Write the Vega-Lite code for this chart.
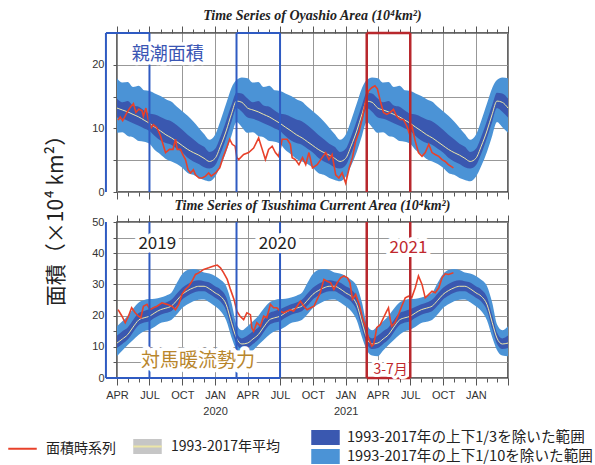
{
  "$schema": "https://vega.github.io/schema/vega-lite/v6.json",
  "padding": {"left": 14, "top": 7, "right": 0, "bottom": 0},
  "background": "white",
  "config": {
    "view": {"stroke": "#333", "strokeWidth": 1.5},
    "axis": {"labelFont": "Liberation Sans", "labelFontSize": 11, "labelColor": "#333", "tickColor": "#555", "gridColor": "#8c8c8c", "gridWidth": 0.9, "domain": false},
    "legend": {"labelFont": "Noto Sans CJK JP", "labelFontSize": 14, "labelColor": "#222", "padding": 0, "labelLimit": 400}
  },
  "datasets": {
    "clim_top": [
      {"d":"2019-04-01","lu":17.9,"du":14.7,"m":13.2,"dl":11.7,"ll":9.3},
      {"d":"2019-04-16","lu":17.2,"du":14.1,"m":12.9,"dl":11.5,"ll":9.4},
      {"d":"2019-05-01","lu":17.3,"du":14.3,"m":12.6,"dl":11.2,"ll":8.8},
      {"d":"2019-05-16","lu":16.5,"du":13.6,"m":12.2,"dl":10.8,"ll":8.6},
      {"d":"2019-06-01","lu":16.7,"du":13.4,"m":11.8,"dl":10.4,"ll":8.0},
      {"d":"2019-06-16","lu":16.0,"du":12.8,"m":11.3,"dl":10.0,"ll":7.9},
      {"d":"2019-07-01","lu":15.9,"du":12.3,"m":10.8,"dl":9.6,"ll":7.6},
      {"d":"2019-07-16","lu":15.5,"du":12.2,"m":10.2,"dl":8.8,"ll":6.6},
      {"d":"2019-08-01","lu":15.1,"du":11.8,"m":9.6,"dl":8.1,"ll":5.9},
      {"d":"2019-08-16","lu":14.6,"du":11.4,"m":9.0,"dl":7.7,"ll":5.2},
      {"d":"2019-09-01","lu":14.2,"du":11.1,"m":8.5,"dl":7.4,"ll":4.8},
      {"d":"2019-09-16","lu":13.4,"du":10.5,"m":7.9,"dl":6.8,"ll":4.4},
      {"d":"2019-10-01","lu":12.7,"du":9.8,"m":7.3,"dl":6.2,"ll":3.8},
      {"d":"2019-10-16","lu":12.0,"du":9.0,"m":6.7,"dl":5.4,"ll":3.0},
      {"d":"2019-11-01","lu":11.1,"du":8.3,"m":6.2,"dl":4.8,"ll":2.7},
      {"d":"2019-11-16","lu":10.1,"du":7.6,"m":5.8,"dl":4.4,"ll":2.2},
      {"d":"2019-12-01","lu":9.1,"du":7.1,"m":5.3,"dl":3.9,"ll":1.9},
      {"d":"2019-12-16","lu":8.2,"du":6.3,"m":4.8,"dl":3.7,"ll":1.7},
      {"d":"2020-01-01","lu":9.0,"du":6.8,"m":5.3,"dl":4.2,"ll":2.4},
      {"d":"2020-01-16","lu":11.2,"du":8.7,"m":7.2,"dl":6.0,"ll":4.1},
      {"d":"2020-02-01","lu":13.9,"du":11.2,"m":9.6,"dl":8.5,"ll":6.3},
      {"d":"2020-02-16","lu":16.4,"du":13.7,"m":12.3,"dl":11.1,"ll":8.9},
      {"d":"2020-03-01","lu":17.6,"du":15.6,"m":14.3,"dl":13.2,"ll":11.0},
      {"d":"2020-03-16","lu":18.0,"du":15.5,"m":14.1,"dl":12.6,"ll":10.2},
      {"d":"2020-04-01","lu":17.9,"du":14.7,"m":13.2,"dl":11.7,"ll":9.3},
      {"d":"2020-04-16","lu":17.2,"du":14.1,"m":12.9,"dl":11.5,"ll":9.4},
      {"d":"2020-05-01","lu":17.3,"du":14.3,"m":12.6,"dl":11.2,"ll":8.8},
      {"d":"2020-05-16","lu":16.5,"du":13.6,"m":12.2,"dl":10.8,"ll":8.6},
      {"d":"2020-06-01","lu":16.7,"du":13.4,"m":11.8,"dl":10.4,"ll":8.0},
      {"d":"2020-06-16","lu":16.0,"du":12.8,"m":11.3,"dl":10.0,"ll":7.9},
      {"d":"2020-07-01","lu":15.9,"du":12.3,"m":10.8,"dl":9.6,"ll":7.6},
      {"d":"2020-07-16","lu":15.5,"du":12.2,"m":10.2,"dl":8.8,"ll":6.6},
      {"d":"2020-08-01","lu":15.1,"du":11.8,"m":9.6,"dl":8.1,"ll":5.9},
      {"d":"2020-08-16","lu":14.6,"du":11.4,"m":9.0,"dl":7.7,"ll":5.2},
      {"d":"2020-09-01","lu":14.2,"du":11.1,"m":8.5,"dl":7.4,"ll":4.8},
      {"d":"2020-09-16","lu":13.4,"du":10.5,"m":7.9,"dl":6.8,"ll":4.4},
      {"d":"2020-10-01","lu":12.7,"du":9.8,"m":7.3,"dl":6.2,"ll":3.8},
      {"d":"2020-10-16","lu":12.0,"du":9.0,"m":6.7,"dl":5.4,"ll":3.0},
      {"d":"2020-11-01","lu":11.1,"du":8.3,"m":6.2,"dl":4.8,"ll":2.7},
      {"d":"2020-11-16","lu":10.1,"du":7.6,"m":5.8,"dl":4.4,"ll":2.2},
      {"d":"2020-12-01","lu":9.1,"du":7.1,"m":5.3,"dl":3.9,"ll":1.9},
      {"d":"2020-12-16","lu":8.2,"du":6.3,"m":4.8,"dl":3.7,"ll":1.7},
      {"d":"2021-01-01","lu":9.0,"du":6.8,"m":5.3,"dl":4.2,"ll":2.4},
      {"d":"2021-01-16","lu":11.2,"du":8.7,"m":7.2,"dl":6.0,"ll":4.1},
      {"d":"2021-02-01","lu":13.9,"du":11.2,"m":9.6,"dl":8.5,"ll":6.3},
      {"d":"2021-02-16","lu":16.4,"du":13.7,"m":12.3,"dl":11.1,"ll":8.9},
      {"d":"2021-03-01","lu":17.6,"du":15.6,"m":14.3,"dl":13.2,"ll":11.0},
      {"d":"2021-03-16","lu":18.0,"du":15.5,"m":14.1,"dl":12.6,"ll":10.2},
      {"d":"2021-04-01","lu":17.9,"du":14.7,"m":13.2,"dl":11.7,"ll":9.3},
      {"d":"2021-04-16","lu":17.2,"du":14.1,"m":12.9,"dl":11.5,"ll":9.4},
      {"d":"2021-05-01","lu":17.3,"du":14.3,"m":12.6,"dl":11.2,"ll":8.8},
      {"d":"2021-05-16","lu":16.5,"du":13.6,"m":12.2,"dl":10.8,"ll":8.6},
      {"d":"2021-06-01","lu":16.7,"du":13.4,"m":11.8,"dl":10.4,"ll":8.0},
      {"d":"2021-06-16","lu":16.0,"du":12.8,"m":11.3,"dl":10.0,"ll":7.9},
      {"d":"2021-07-01","lu":15.9,"du":12.3,"m":10.8,"dl":9.6,"ll":7.6},
      {"d":"2021-07-16","lu":15.5,"du":12.2,"m":10.2,"dl":8.8,"ll":6.6},
      {"d":"2021-08-01","lu":15.1,"du":11.8,"m":9.6,"dl":8.1,"ll":5.9},
      {"d":"2021-08-16","lu":14.6,"du":11.4,"m":9.0,"dl":7.7,"ll":5.2},
      {"d":"2021-09-01","lu":14.2,"du":11.1,"m":8.5,"dl":7.4,"ll":4.8},
      {"d":"2021-09-16","lu":13.4,"du":10.5,"m":7.9,"dl":6.8,"ll":4.4},
      {"d":"2021-10-01","lu":12.7,"du":9.8,"m":7.3,"dl":6.2,"ll":3.8},
      {"d":"2021-10-16","lu":12.0,"du":9.0,"m":6.7,"dl":5.4,"ll":3.0},
      {"d":"2021-11-01","lu":11.1,"du":8.3,"m":6.2,"dl":4.8,"ll":2.7},
      {"d":"2021-11-16","lu":10.1,"du":7.6,"m":5.8,"dl":4.4,"ll":2.2},
      {"d":"2021-12-01","lu":9.1,"du":7.1,"m":5.3,"dl":3.9,"ll":1.9},
      {"d":"2021-12-16","lu":8.2,"du":6.3,"m":4.8,"dl":3.7,"ll":1.7},
      {"d":"2022-01-01","lu":9.0,"du":6.8,"m":5.3,"dl":4.2,"ll":2.4},
      {"d":"2022-01-16","lu":11.2,"du":8.7,"m":7.2,"dl":6.0,"ll":4.1},
      {"d":"2022-02-01","lu":13.9,"du":11.2,"m":9.6,"dl":8.5,"ll":6.3},
      {"d":"2022-02-16","lu":16.4,"du":13.7,"m":12.3,"dl":11.1,"ll":8.9},
      {"d":"2022-03-01","lu":17.6,"du":15.6,"m":14.3,"dl":13.2,"ll":11.0},
      {"d":"2022-03-16","lu":18.0,"du":15.5,"m":14.1,"dl":12.6,"ll":10.2},
      {"d":"2022-04-01","lu":17.9,"du":14.7,"m":13.2,"dl":11.7,"ll":9.3}
    ],
    "clim_bot": [
      {"d":"2019-04-01","lu":16.6,"du":13.6,"m":11.2,"dl":9.6,"ll":7.0},
      {"d":"2019-04-16","lu":18.2,"du":15.0,"m":12.5,"dl":10.9,"ll":8.8},
      {"d":"2019-05-01","lu":19.9,"du":16.2,"m":13.9,"dl":12.3,"ll":10.6},
      {"d":"2019-05-16","lu":22.2,"du":18.6,"m":16.3,"dl":14.7,"ll":12.2},
      {"d":"2019-06-01","lu":24.2,"du":20.8,"m":18.6,"dl":17.0,"ll":13.9},
      {"d":"2019-06-16","lu":25.0,"du":21.5,"m":19.3,"dl":17.8,"ll":15.0},
      {"d":"2019-07-01","lu":25.3,"du":22.0,"m":19.8,"dl":18.2,"ll":15.5},
      {"d":"2019-07-16","lu":25.4,"du":22.8,"m":20.9,"dl":19.3,"ll":16.4},
      {"d":"2019-08-01","lu":25.8,"du":23.6,"m":21.9,"dl":20.3,"ll":17.6},
      {"d":"2019-08-16","lu":26.4,"du":24.2,"m":22.4,"dl":20.8,"ll":18.0},
      {"d":"2019-09-01","lu":27.4,"du":25.2,"m":23.1,"dl":21.5,"ll":18.7},
      {"d":"2019-09-16","lu":30.5,"du":27.1,"m":24.9,"dl":23.2,"ll":20.4},
      {"d":"2019-10-01","lu":33.3,"du":28.9,"m":26.8,"dl":25.2,"ll":22.4},
      {"d":"2019-10-16","lu":34.6,"du":30.1,"m":28.0,"dl":26.4,"ll":23.6},
      {"d":"2019-11-01","lu":34.9,"du":31.0,"m":28.9,"dl":27.3,"ll":24.6},
      {"d":"2019-11-16","lu":34.6,"du":31.3,"m":29.4,"dl":27.8,"ll":25.1},
      {"d":"2019-12-01","lu":33.8,"du":31.0,"m":29.4,"dl":27.8,"ll":25.2},
      {"d":"2019-12-16","lu":33.5,"du":30.6,"m":28.6,"dl":26.9,"ll":24.3},
      {"d":"2020-01-01","lu":32.7,"du":29.4,"m":27.3,"dl":25.7,"ll":23.0},
      {"d":"2020-01-16","lu":31.5,"du":28.4,"m":26.2,"dl":24.5,"ll":21.5},
      {"d":"2020-02-01","lu":29.5,"du":26.0,"m":23.6,"dl":21.6,"ll":18.5},
      {"d":"2020-02-16","lu":24.0,"du":20.1,"m":17.7,"dl":15.6,"ll":13.0},
      {"d":"2020-03-01","lu":17.2,"du":14.6,"m":12.8,"dl":11.0,"ll":9.0},
      {"d":"2020-03-16","lu":15.3,"du":12.7,"m":10.9,"dl":9.3,"ll":7.2},
      {"d":"2020-04-01","lu":16.6,"du":13.6,"m":11.2,"dl":9.6,"ll":7.0},
      {"d":"2020-04-16","lu":18.2,"du":15.0,"m":12.5,"dl":10.9,"ll":8.8},
      {"d":"2020-05-01","lu":19.9,"du":16.2,"m":13.9,"dl":12.3,"ll":10.6},
      {"d":"2020-05-16","lu":22.2,"du":18.6,"m":16.3,"dl":14.7,"ll":12.2},
      {"d":"2020-06-01","lu":24.2,"du":20.8,"m":18.6,"dl":17.0,"ll":13.9},
      {"d":"2020-06-16","lu":25.0,"du":21.5,"m":19.3,"dl":17.8,"ll":15.0},
      {"d":"2020-07-01","lu":25.3,"du":22.0,"m":19.8,"dl":18.2,"ll":15.5},
      {"d":"2020-07-16","lu":25.4,"du":22.8,"m":20.9,"dl":19.3,"ll":16.4},
      {"d":"2020-08-01","lu":25.8,"du":23.6,"m":21.9,"dl":20.3,"ll":17.6},
      {"d":"2020-08-16","lu":26.4,"du":24.2,"m":22.4,"dl":20.8,"ll":18.0},
      {"d":"2020-09-01","lu":27.4,"du":25.2,"m":23.1,"dl":21.5,"ll":18.7},
      {"d":"2020-09-16","lu":30.5,"du":27.1,"m":24.9,"dl":23.2,"ll":20.4},
      {"d":"2020-10-01","lu":33.3,"du":28.9,"m":26.8,"dl":25.2,"ll":22.4},
      {"d":"2020-10-16","lu":34.6,"du":30.1,"m":28.0,"dl":26.4,"ll":23.6},
      {"d":"2020-11-01","lu":34.9,"du":31.0,"m":28.9,"dl":27.3,"ll":24.6},
      {"d":"2020-11-16","lu":34.6,"du":31.3,"m":29.4,"dl":27.8,"ll":25.1},
      {"d":"2020-12-01","lu":33.8,"du":31.0,"m":29.4,"dl":27.8,"ll":25.2},
      {"d":"2020-12-16","lu":33.5,"du":30.6,"m":28.6,"dl":26.9,"ll":24.3},
      {"d":"2021-01-01","lu":32.7,"du":29.4,"m":27.3,"dl":25.7,"ll":23.0},
      {"d":"2021-01-16","lu":31.5,"du":28.4,"m":26.2,"dl":24.5,"ll":21.5},
      {"d":"2021-02-01","lu":29.5,"du":26.0,"m":23.6,"dl":21.6,"ll":18.5},
      {"d":"2021-02-16","lu":24.0,"du":20.1,"m":17.7,"dl":15.6,"ll":13.0},
      {"d":"2021-03-01","lu":17.2,"du":14.6,"m":12.8,"dl":11.0,"ll":9.0},
      {"d":"2021-03-16","lu":15.3,"du":12.7,"m":10.9,"dl":9.3,"ll":7.2},
      {"d":"2021-04-01","lu":16.6,"du":13.6,"m":11.2,"dl":9.6,"ll":7.0},
      {"d":"2021-04-16","lu":18.2,"du":15.0,"m":12.5,"dl":10.9,"ll":8.8},
      {"d":"2021-05-01","lu":19.9,"du":16.2,"m":13.9,"dl":12.3,"ll":10.6},
      {"d":"2021-05-16","lu":22.2,"du":18.6,"m":16.3,"dl":14.7,"ll":12.2},
      {"d":"2021-06-01","lu":24.2,"du":20.8,"m":18.6,"dl":17.0,"ll":13.9},
      {"d":"2021-06-16","lu":25.0,"du":21.5,"m":19.3,"dl":17.8,"ll":15.0},
      {"d":"2021-07-01","lu":25.3,"du":22.0,"m":19.8,"dl":18.2,"ll":15.5},
      {"d":"2021-07-16","lu":25.4,"du":22.8,"m":20.9,"dl":19.3,"ll":16.4},
      {"d":"2021-08-01","lu":25.8,"du":23.6,"m":21.9,"dl":20.3,"ll":17.6},
      {"d":"2021-08-16","lu":26.4,"du":24.2,"m":22.4,"dl":20.8,"ll":18.0},
      {"d":"2021-09-01","lu":27.4,"du":25.2,"m":23.1,"dl":21.5,"ll":18.7},
      {"d":"2021-09-16","lu":30.5,"du":27.1,"m":24.9,"dl":23.2,"ll":20.4},
      {"d":"2021-10-01","lu":33.3,"du":28.9,"m":26.8,"dl":25.2,"ll":22.4},
      {"d":"2021-10-16","lu":34.6,"du":30.1,"m":28.0,"dl":26.4,"ll":23.6},
      {"d":"2021-11-01","lu":34.9,"du":31.0,"m":28.9,"dl":27.3,"ll":24.6},
      {"d":"2021-11-16","lu":34.6,"du":31.3,"m":29.4,"dl":27.8,"ll":25.1},
      {"d":"2021-12-01","lu":33.8,"du":31.0,"m":29.4,"dl":27.8,"ll":25.2},
      {"d":"2021-12-16","lu":33.5,"du":30.6,"m":28.6,"dl":26.9,"ll":24.3},
      {"d":"2022-01-01","lu":32.7,"du":29.4,"m":27.3,"dl":25.7,"ll":23.0},
      {"d":"2022-01-16","lu":31.5,"du":28.4,"m":26.2,"dl":24.5,"ll":21.5},
      {"d":"2022-02-01","lu":29.5,"du":26.0,"m":23.6,"dl":21.6,"ll":18.5},
      {"d":"2022-02-16","lu":24.0,"du":20.1,"m":17.7,"dl":15.6,"ll":13.0},
      {"d":"2022-03-01","lu":17.2,"du":14.6,"m":12.8,"dl":11.0,"ll":9.0},
      {"d":"2022-03-16","lu":15.3,"du":12.7,"m":10.9,"dl":9.3,"ll":7.2},
      {"d":"2022-04-01","lu":16.6,"du":13.6,"m":11.2,"dl":9.6,"ll":7.0}
    ],
    "red_top": [
      {"d":"2019-04-04","v":11.3},{"d":"2019-04-10","v":11.8},{"d":"2019-04-17","v":11.2},{"d":"2019-04-29","v":12.5},
      {"d":"2019-05-08","v":13.3},{"d":"2019-05-17","v":13.9},{"d":"2019-05-24","v":12.5},{"d":"2019-06-01","v":13.0},
      {"d":"2019-06-10","v":12.8},{"d":"2019-06-14","v":11.9},{"d":"2019-06-21","v":13.2},{"d":"2019-06-28","v":11.3},
      {"d":"2019-07-06","v":10.1},{"d":"2019-07-12","v":10.6},{"d":"2019-07-22","v":10.1},{"d":"2019-08-01","v":8.8},
      {"d":"2019-08-15","v":6.2},{"d":"2019-08-26","v":6.7},{"d":"2019-09-05","v":6.7},{"d":"2019-09-12","v":8.3},
      {"d":"2019-09-17","v":6.7},{"d":"2019-09-26","v":6.7},{"d":"2019-10-02","v":5.9},{"d":"2019-10-10","v":5.1},
      {"d":"2019-10-17","v":3.5},{"d":"2019-10-24","v":3.0},{"d":"2019-11-01","v":3.5},{"d":"2019-11-07","v":2.7},
      {"d":"2019-11-17","v":2.2},{"d":"2019-11-26","v":2.2},{"d":"2019-12-05","v":2.5},{"d":"2019-12-14","v":3.0},
      {"d":"2019-12-21","v":2.5},{"d":"2020-01-02","v":3.0},{"d":"2020-01-14","v":3.8},{"d":"2020-01-23","v":5.4},
      {"d":"2020-02-04","v":7.2},{"d":"2020-02-11","v":8.3},{"d":"2020-02-18","v":7.5},{"d":"2020-02-26","v":7.2},
      {"d":"2020-03-02","v":5.4},{"d":"2020-03-07","v":5.1},{"d":"2020-03-21","v":5.9},{"d":"2020-04-04","v":6.2},
      {"d":"2020-04-18","v":6.9},{"d":"2020-05-02","v":8.5},{"d":"2020-05-11","v":6.9},{"d":"2020-05-21","v":5.1},
      {"d":"2020-05-30","v":6.7},{"d":"2020-06-09","v":7.2},{"d":"2020-06-18","v":6.2},{"d":"2020-06-27","v":5.6},
      {"d":"2020-07-07","v":8.3},{"d":"2020-07-21","v":8.3},{"d":"2020-07-30","v":7.5},{"d":"2020-08-04","v":5.4},
      {"d":"2020-08-13","v":5.1},{"d":"2020-08-23","v":4.3},{"d":"2020-09-02","v":5.4},{"d":"2020-09-11","v":4.3},
      {"d":"2020-09-20","v":6.2},{"d":"2020-09-30","v":3.8},{"d":"2020-10-13","v":4.3},{"d":"2020-10-27","v":5.4},
      {"d":"2020-11-06","v":6.2},{"d":"2020-11-15","v":5.1},{"d":"2020-11-24","v":5.9},{"d":"2020-12-04","v":2.7},
      {"d":"2020-12-13","v":2.2},{"d":"2020-12-22","v":3.0},{"d":"2021-01-01","v":1.4},{"d":"2021-01-11","v":3.8},
      {"d":"2021-01-20","v":5.4},{"d":"2021-01-29","v":8.0},{"d":"2021-02-08","v":9.6},{"d":"2021-02-17","v":11.7},
      {"d":"2021-02-26","v":14.3},{"d":"2021-03-06","v":15.9},{"d":"2021-03-15","v":16.4},{"d":"2021-03-24","v":16.7},
      {"d":"2021-03-31","v":16.2},{"d":"2021-04-08","v":14.3},{"d":"2021-04-17","v":12.5},{"d":"2021-04-26","v":12.2},
      {"d":"2021-05-05","v":12.5},{"d":"2021-05-15","v":13.0},{"d":"2021-05-24","v":11.9},{"d":"2021-06-03","v":11.4},
      {"d":"2021-06-12","v":11.4},{"d":"2021-06-21","v":10.4},{"d":"2021-06-29","v":9.1},{"d":"2021-07-05","v":10.6},
      {"d":"2021-07-15","v":8.0},{"d":"2021-07-24","v":6.2},{"d":"2021-08-03","v":5.6},{"d":"2021-08-12","v":6.2},
      {"d":"2021-08-22","v":7.5},{"d":"2021-08-31","v":6.2},{"d":"2021-09-09","v":5.9},{"d":"2021-09-19","v":5.6},
      {"d":"2021-09-28","v":5.1},{"d":"2021-10-07","v":4.8},{"d":"2021-10-16","v":4.3},{"d":"2021-10-30","v":3.8}
    ],
    "red_bot": [
      {"d":"2019-04-04","v":21.9},{"d":"2019-04-15","v":19.8},{"d":"2019-04-24","v":17.7},{"d":"2019-05-03","v":19.8},
      {"d":"2019-05-12","v":22.5},{"d":"2019-05-22","v":20.9},{"d":"2019-05-31","v":19.8},{"d":"2019-06-07","v":19.3},
      {"d":"2019-06-14","v":23.0},{"d":"2019-06-24","v":23.6},{"d":"2019-07-03","v":21.9},{"d":"2019-07-12","v":22.5},
      {"d":"2019-07-22","v":23.0},{"d":"2019-08-05","v":24.1},{"d":"2019-08-19","v":23.6},{"d":"2019-09-02","v":23.0},
      {"d":"2019-09-12","v":21.9},{"d":"2019-09-21","v":23.6},{"d":"2019-09-30","v":26.8},{"d":"2019-10-10","v":28.4},
      {"d":"2019-10-19","v":29.4},{"d":"2019-10-28","v":31.0},{"d":"2019-11-07","v":33.2},{"d":"2019-11-16","v":33.7},
      {"d":"2019-11-30","v":34.8},{"d":"2019-12-14","v":35.3},{"d":"2019-12-28","v":35.9},{"d":"2020-01-07","v":36.2},
      {"d":"2020-01-16","v":35.3},{"d":"2020-01-25","v":33.7},{"d":"2020-02-04","v":31.6},{"d":"2020-02-13","v":28.4},
      {"d":"2020-02-23","v":25.2},{"d":"2020-03-02","v":21.4},{"d":"2020-03-11","v":19.8},{"d":"2020-03-21","v":18.7},
      {"d":"2020-03-30","v":20.9},{"d":"2020-04-09","v":20.3},{"d":"2020-04-13","v":16.1},{"d":"2020-04-18","v":15.0},
      {"d":"2020-04-27","v":17.7},{"d":"2020-05-07","v":16.6},{"d":"2020-05-16","v":19.8},{"d":"2020-05-25","v":19.3},
      {"d":"2020-06-04","v":23.6},{"d":"2020-06-13","v":22.5},{"d":"2020-06-22","v":22.5},{"d":"2020-07-02","v":21.4},
      {"d":"2020-07-11","v":20.9},{"d":"2020-07-20","v":21.4},{"d":"2020-07-30","v":21.9},{"d":"2020-08-08","v":21.4},
      {"d":"2020-08-18","v":23.0},{"d":"2020-08-27","v":24.6},{"d":"2020-09-06","v":23.0},{"d":"2020-09-15","v":21.9},
      {"d":"2020-09-25","v":22.5},{"d":"2020-10-04","v":23.0},{"d":"2020-10-13","v":25.2},{"d":"2020-10-22","v":27.3},
      {"d":"2020-11-01","v":31.6},{"d":"2020-11-10","v":31.0},{"d":"2020-11-20","v":30.5},{"d":"2020-11-29","v":28.4},
      {"d":"2020-12-08","v":30.5},{"d":"2020-12-18","v":32.1},{"d":"2020-12-27","v":32.7},{"d":"2021-01-06","v":32.1},
      {"d":"2021-01-13","v":30.5},{"d":"2021-01-20","v":25.2},{"d":"2021-01-29","v":26.8},{"d":"2021-02-08","v":23.6},
      {"d":"2021-02-17","v":19.3},{"d":"2021-02-26","v":16.1},{"d":"2021-03-06","v":12.8},{"d":"2021-03-15","v":10.2},
      {"d":"2021-03-20","v":10.7},{"d":"2021-03-24","v":12.8},{"d":"2021-03-29","v":16.1},{"d":"2021-04-08","v":17.1},
      {"d":"2021-04-17","v":19.3},{"d":"2021-04-26","v":21.4},{"d":"2021-05-01","v":22.5},{"d":"2021-05-05","v":19.3},
      {"d":"2021-05-10","v":16.6},{"d":"2021-05-19","v":17.7},{"d":"2021-05-29","v":20.3},{"d":"2021-06-07","v":23.0},
      {"d":"2021-06-17","v":25.7},{"d":"2021-06-26","v":26.2},{"d":"2021-07-05","v":25.7},{"d":"2021-07-15","v":28.9},
      {"d":"2021-07-24","v":32.7},{"d":"2021-08-03","v":30.0},{"d":"2021-08-12","v":25.7},{"d":"2021-08-22","v":26.8},
      {"d":"2021-08-31","v":27.8},{"d":"2021-09-09","v":27.3},{"d":"2021-09-19","v":28.9},{"d":"2021-09-28","v":32.1},
      {"d":"2021-10-07","v":33.4},{"d":"2021-10-16","v":33.2},{"d":"2021-10-30","v":33.7}
    ],
    "boxes": [
      {"start":"2019-03-01","end":"2019-07-01","kind":"blue"},
      {"start":"2020-03-01","end":"2020-07-01","kind":"blue"},
      {"start":"2021-03-01","end":"2021-07-01","kind":"red"}
    ],
    "spans": [
      {"start":"2019-03-01","end":"2020-07-01","kind":"blue"},
      {"start":"2021-03-01","end":"2021-07-01","kind":"red"}
    ],
    "labels_top": [
      {"d":"2019-08-21","v":21.6,"t":"親潮面積","k":"blue"}
    ],
    "labels_bot": [
      {"d":"2019-07-23","v":42.8,"t":"2019","k":"black"},
      {"d":"2020-06-24","v":42.8,"t":"2020","k":"black"},
      {"d":"2021-06-26","v":41.7,"t":"2021","k":"red"},
      {"d":"2019-11-14","v":5.4,"t":"対馬暖流勢力","k":"orange"}
    ],
    "labels_small": [
      {"d":"2021-05-07","v":2.7,"t":"3-7月","k":"red"}
    ]
  },
  "bounds": "flush",
  "spacing": 30,
  "vconcat": [
    {
      "width": 391, "height": 159,
      "title": {"text": "Time Series of Oyashio Area (10⁴km²)", "font": "Liberation Serif", "fontStyle": "italic", "fontWeight": "bold", "fontSize": 14, "color": "#222", "offset": 3},
      "resolve": {"axis": {"x": "independent", "y": "independent"}},
      "layer": [
        {
          "data": {"name": "clim_top"},
          "mark": {"type": "area", "interpolate": "monotone"},
          "encoding": {
            "x": {"field": "d", "type": "temporal",
              "scale": {"type": "utc", "nice": false, "domain": [{"year": 2019, "month": 4, "date": 1, "utc": true}, {"year": 2022, "month": 4, "date": 1, "utc": true}]},
              "axis": {"orient": "bottom", "title": null, "labels": false, "tickCount": {"interval": "month", "step": 1},
                "tickSize": {"condition": {"test": "utcmonth(datum.value) % 3 === 0", "value": 7}, "value": 4},
                "grid": true, "gridOpacity": {"condition": {"test": "utcmonth(datum.value) % 3 === 0", "value": 1}, "value": 0}}},
            "y": {"field": "ll", "type": "quantitative", "scale": {"domain": [0, 25], "nice": false},
              "axis": {"values": [0, 5, 10, 15, 20, 25], "labelOverlap": false, "labelExpr": "datum.value % 10 === 0 ? datum.label : ''", "grid": true, "tickSize": 4, "labelPadding": 9,
                "title": "面積（×10⁴ km²）", "titleFont": "Noto Sans CJK JP", "titleFontSize": 21, "titleFontWeight": "normal", "titleColor": "#222",
                "titleAngle": 270, "titleAlign": "center", "titleBaseline": "bottom", "titleX": -51, "titleY": 182}},
            "y2": {"field": "lu"},
            "fill": {"datum": "1993-2017年の上下1/10を除いた範囲", "type": "nominal",
              "scale": {"domain": ["1993-2017年の上下1/3を除いた範囲", "1993-2017年の上下1/10を除いた範囲"], "range": ["#3a58b0", "#4b93d6"]},
              "legend": {"orient": "none", "legendX": 201, "legendY": 397, "direction": "vertical", "title": null, "labelFontSize": 14.6,
                "symbolType": "M-1.9,-1H1.9V1H-1.9Z", "symbolSize": 225, "symbolStrokeWidth": 0, "rowPadding": 3, "labelOffset": 14}}
          }
        },
        {
          "data": {"name": "clim_top"},
          "mark": {"type": "area", "interpolate": "monotone"},
          "encoding": {
            "x": {"field": "d", "type": "temporal", "axis": null},
            "y": {"field": "dl", "type": "quantitative", "axis": null},
            "y2": {"field": "du"},
            "fill": {"datum": "1993-2017年の上下1/3を除いた範囲", "type": "nominal"}
          }
        },
        {
          "data": {"name": "clim_top"},
          "mark": {"type": "line", "interpolate": "monotone", "strokeWidth": 1},
          "encoding": {
            "x": {"field": "d", "type": "temporal",
              "axis": {"orient": "top", "title": null, "labels": false, "grid": false, "tickCount": {"interval": "month", "step": 1},
                "tickSize": {"condition": {"test": "utcmonth(datum.value) % 3 === 0", "value": 7}, "value": 4}}},
            "y": {"field": "m", "type": "quantitative", "axis": null},
            "stroke": {"datum": "1993-2017年平均", "type": "nominal",
              "scale": {"domain": ["面積時系列", "1993-2017年平均"], "range": ["#e8412a", "#ece6a8"]},
              "legend": {"orient": "none", "legendX": -103, "legendY": 405, "direction": "horizontal", "title": null,
                "symbolType": "M-1.9,0H1.9", "symbolSize": 225, "symbolStrokeWidth": 2, "columnPadding": 13, "labelOffset": 15,
                "encode": {"symbols": {"update": {
                  "shape": [{"test": "datum.value === '1993-2017年平均'", "value": "M-1.9,0H1.9V-1H-1.9V1H1.9V0"}, {"value": "M-1.9,0H1.9"}],
                  "fill": [{"test": "datum.value === '1993-2017年平均'", "value": "#c6c6c6"}, {"value": "transparent"}],
                  "stroke": [{"test": "datum.value === '1993-2017年平均'", "value": "#e6dc2a"}, {"value": "#e8412a"}],
                  "strokeDash": [{"test": "datum.value === '1993-2017年平均'", "value": [28.5, 600]}, {"value": [1000, 0]}]
                }}}}}
          }
        },
        {
          "data": {"name": "red_top"},
          "mark": {"type": "line", "strokeWidth": 1.6},
          "encoding": {
            "x": {"field": "d", "type": "temporal", "axis": null},
            "y": {"field": "v", "type": "quantitative", "axis": null},
            "stroke": {"datum": "面積時系列", "type": "nominal"}
          }
        },
        {
          "data": {"name": "boxes"},
          "mark": {"type": "rule"},
          "encoding": {
            "x": {"field": "start", "type": "temporal", "axis": null},
            "color": {"condition": {"test": "datum.kind === 'red'", "value": "#b8282d"}, "value": "#2f5bc2"},
            "strokeWidth": {"condition": {"test": "datum.kind === 'red'", "value": 2.5}, "value": 2}
          }
        },
        {
          "data": {"name": "boxes"},
          "mark": {"type": "rule"},
          "encoding": {
            "x": {"field": "end", "type": "temporal", "axis": null},
            "color": {"condition": {"test": "datum.kind === 'red'", "value": "#b8282d"}, "value": "#2f5bc2"},
            "strokeWidth": {"condition": {"test": "datum.kind === 'red'", "value": 2.5}, "value": 2}
          }
        },
        {
          "data": {"name": "boxes"},
          "mark": {"type": "rule"},
          "encoding": {
            "x": {"field": "start", "type": "temporal", "axis": null},
            "x2": {"field": "end"},
            "y": {"datum": 25, "axis": null},
            "color": {"condition": {"test": "datum.kind === 'red'", "value": "#b8282d"}, "value": "#2f5bc2"},
            "strokeWidth": {"condition": {"test": "datum.kind === 'red'", "value": 2.5}, "value": 2}
          }
        },
        {
          "data": {"name": "labels_top"},
          "mark": {"type": "text", "font": "Noto Sans CJK JP", "fontSize": 18, "fill": "white", "stroke": "white", "strokeWidth": 7, "strokeJoin": "round"},
          "encoding": {
            "x": {"field": "d", "type": "temporal", "axis": null},
            "y": {"field": "v", "type": "quantitative", "axis": null},
            "text": {"field": "t"}
          }
        },
        {
          "data": {"name": "labels_top"},
          "mark": {"type": "text", "font": "Noto Sans CJK JP", "fontSize": 18},
          "encoding": {
            "x": {"field": "d", "type": "temporal", "axis": null},
            "y": {"field": "v", "type": "quantitative", "axis": null},
            "text": {"field": "t"},
            "color": {"value": "#3a55b4"}
          }
        }
      ]
    },
    {
      "width": 391, "height": 156,
      "title": {"text": "Time Series of Tsushima Current Area (10⁴km²)", "font": "Liberation Serif", "fontStyle": "italic", "fontWeight": "bold", "fontSize": 14, "color": "#222", "offset": 2},
      "resolve": {"axis": {"x": "independent", "y": "independent"}},
      "layer": [
        {
          "data": {"name": "clim_bot"},
          "mark": {"type": "area", "interpolate": "monotone"},
          "encoding": {
            "x": {"field": "d", "type": "temporal",
              "scale": {"type": "utc", "nice": false, "domain": [{"year": 2019, "month": 4, "date": 1, "utc": true}, {"year": 2022, "month": 4, "date": 1, "utc": true}]},
              "axis": {"orient": "bottom", "title": null, "tickCount": {"interval": "month", "step": 1},
                "tickSize": {"condition": {"test": "utcmonth(datum.value) % 3 === 0", "value": 7}, "value": 4},
                "labelOverlap": false, "labelFlush": false, "labelPadding": 4, "labelLineHeight": 16, "labelBaseline": "top",
                "labelExpr": "utcyear(datum.value) === 2022 ? (utcmonth(datum.value) === 0 ? 'JAN' : '') : (utcmonth(datum.value) === 0 ? ['JAN', '' + utcyear(datum.value)] : (utcmonth(datum.value) % 3 === 0 ? upper(utcFormat(datum.value, '%b')) : ''))",
                "grid": true, "gridOpacity": {"condition": {"test": "utcmonth(datum.value) % 3 === 0", "value": 1}, "value": 0}}},
            "y": {"field": "ll", "type": "quantitative", "scale": {"domain": [0, 50], "nice": false},
              "axis": {"title": null, "values": [0, 5, 10, 15, 20, 25, 30, 35, 40, 45, 50], "labelOverlap": false, "labelExpr": "datum.value % 10 === 0 ? datum.label : ''", "grid": true, "tickSize": 4, "labelPadding": 9}},
            "y2": {"field": "lu"},
            "fill": {"datum": "1993-2017年の上下1/10を除いた範囲", "type": "nominal"}
          }
        },
        {
          "data": {"name": "clim_bot"},
          "mark": {"type": "area", "interpolate": "monotone"},
          "encoding": {
            "x": {"field": "d", "type": "temporal", "axis": null},
            "y": {"field": "dl", "type": "quantitative", "axis": null},
            "y2": {"field": "du"},
            "fill": {"datum": "1993-2017年の上下1/3を除いた範囲", "type": "nominal"}
          }
        },
        {
          "data": {"name": "clim_bot"},
          "mark": {"type": "line", "interpolate": "monotone", "strokeWidth": 1},
          "encoding": {
            "x": {"field": "d", "type": "temporal",
              "axis": {"orient": "top", "title": null, "labels": false, "grid": false, "tickCount": {"interval": "month", "step": 1},
                "tickSize": {"condition": {"test": "utcmonth(datum.value) % 3 === 0", "value": 7}, "value": 4}}},
            "y": {"field": "m", "type": "quantitative", "axis": null},
            "stroke": {"datum": "1993-2017年平均", "type": "nominal"}
          }
        },
        {
          "data": {"name": "red_bot"},
          "mark": {"type": "line", "strokeWidth": 1.6},
          "encoding": {
            "x": {"field": "d", "type": "temporal", "axis": null},
            "y": {"field": "v", "type": "quantitative", "axis": null},
            "stroke": {"datum": "面積時系列", "type": "nominal"}
          }
        },
        {
          "data": {"name": "boxes"},
          "mark": {"type": "rule"},
          "encoding": {
            "x": {"field": "start", "type": "temporal", "axis": null},
            "color": {"condition": {"test": "datum.kind === 'red'", "value": "#b8282d"}, "value": "#2f5bc2"},
            "strokeWidth": {"condition": {"test": "datum.kind === 'red'", "value": 2.5}, "value": 2}
          }
        },
        {
          "data": {"name": "boxes"},
          "mark": {"type": "rule"},
          "encoding": {
            "x": {"field": "end", "type": "temporal", "axis": null},
            "color": {"condition": {"test": "datum.kind === 'red'", "value": "#b8282d"}, "value": "#2f5bc2"},
            "strokeWidth": {"condition": {"test": "datum.kind === 'red'", "value": 2.5}, "value": 2}
          }
        },
        {
          "data": {"name": "spans"},
          "mark": {"type": "rule"},
          "encoding": {
            "x": {"field": "start", "type": "temporal", "axis": null},
            "x2": {"field": "end"},
            "y": {"datum": 0, "axis": null},
            "color": {"condition": {"test": "datum.kind === 'red'", "value": "#b8282d"}, "value": "#2f5bc2"},
            "strokeWidth": {"condition": {"test": "datum.kind === 'red'", "value": 2.5}, "value": 2}
          }
        },
        {
          "data": {"name": "labels_bot"},
          "mark": {"type": "text", "font": "Noto Sans CJK JP", "fill": "white", "stroke": "white", "strokeWidth": 8, "strokeJoin": "round"},
          "encoding": {
            "x": {"field": "d", "type": "temporal", "axis": null},
            "y": {"field": "v", "type": "quantitative", "axis": null},
            "text": {"field": "t"},
            "size": {"condition": {"test": "datum.k === 'orange'", "value": 19}, "value": 17}
          }
        },
        {
          "data": {"name": "labels_bot"},
          "mark": {"type": "text", "font": "Noto Sans CJK JP"},
          "encoding": {
            "x": {"field": "d", "type": "temporal", "axis": null},
            "y": {"field": "v", "type": "quantitative", "axis": null},
            "text": {"field": "t"},
            "size": {"condition": {"test": "datum.k === 'orange'", "value": 19}, "value": 17},
            "color": {"condition": [{"test": "datum.k === 'red'", "value": "#c0282d"}, {"test": "datum.k === 'orange'", "value": "#b8862c"}], "value": "#222"}
          }
        },
        {
          "data": {"name": "labels_small"},
          "mark": {"type": "text", "font": "Noto Sans CJK JP", "fontSize": 14, "fill": "white", "stroke": "white", "strokeWidth": 6, "strokeJoin": "round"},
          "encoding": {
            "x": {"field": "d", "type": "temporal", "axis": null},
            "y": {"field": "v", "type": "quantitative", "axis": null},
            "text": {"field": "t"}
          }
        },
        {
          "data": {"name": "labels_small"},
          "mark": {"type": "text", "font": "Noto Sans CJK JP", "fontSize": 14},
          "encoding": {
            "x": {"field": "d", "type": "temporal", "axis": null},
            "y": {"field": "v", "type": "quantitative", "axis": null},
            "text": {"field": "t"},
            "color": {"value": "#c0282d"}
          }
        }
      ]
    }
  ]
}
